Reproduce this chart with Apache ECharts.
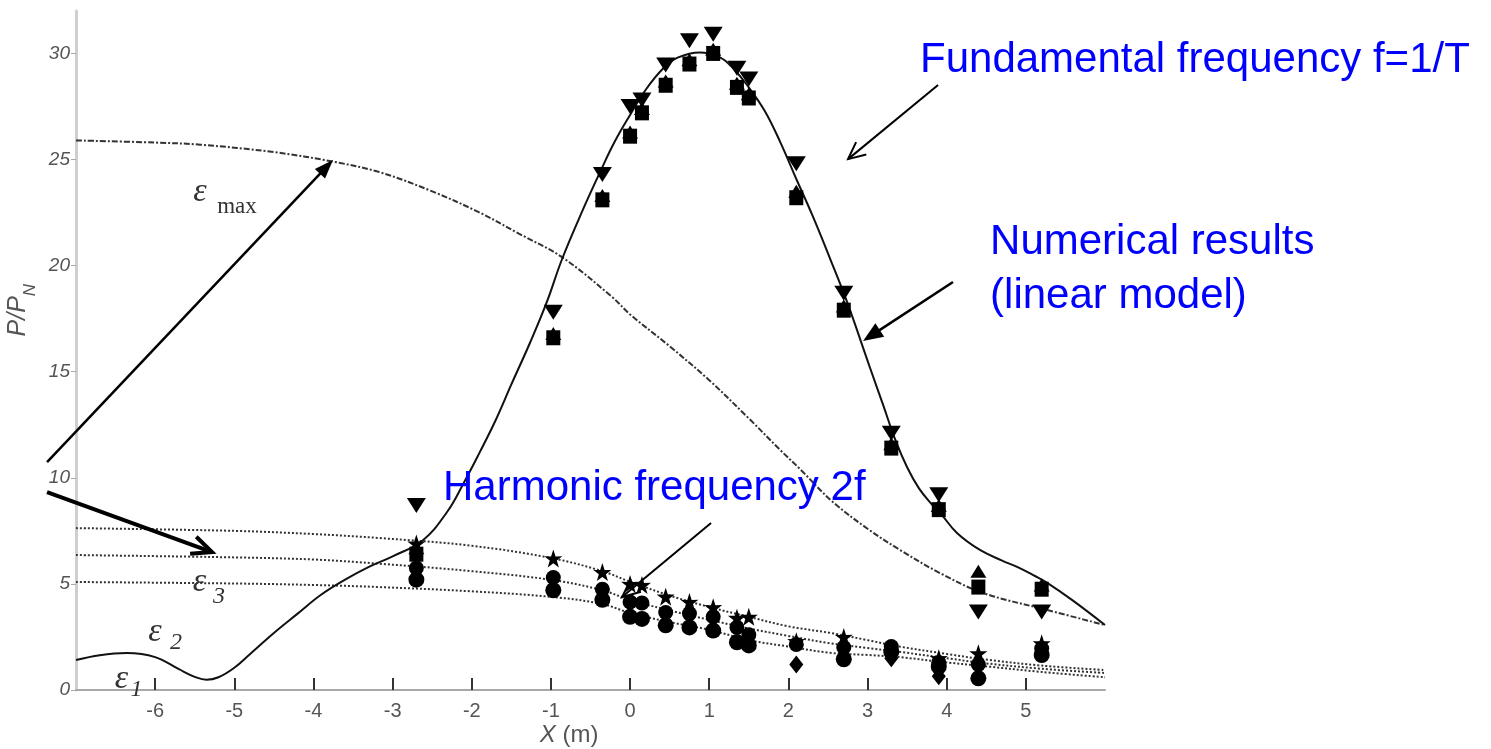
<!DOCTYPE html>
<html><head><meta charset="utf-8">
<script src="https://cdn.jsdelivr.net/npm/echarts@6/dist/echarts.min.js"></script>
<style>html,body{margin:0;padding:0;background:#fff;} #c{width:1491px;height:749px;}</style>
</head><body><div id="c"></div>
<script>
// ---- tick labels ----
const xTicks = [-6, -5, -4, -3, -2, -1, 0, 1, 2, 3, 4, 5];
const yTicks = [0, 5, 10, 15, 20, 25, 30];

// ---- numerical result, fundamental (solid) ----
const solidX = [-7, -6.7, -6.36, -6.0, -5.7, -5.5, -5.35, -5.2, -5.0, -4.8, -4.5, -4.2, -3.9, -3.6, -3.3, -3.0, -2.62, -2.31, -2.11, -1.9, -1.7, -1.5, -1.26, -1.05, -0.86, -0.6, -0.38, -0.2, 0, 0.2, 0.42, 0.6, 0.88, 1.14, 1.3, 1.48, 1.7, 1.9, 2.11, 2.3, 2.53, 2.74, 3.03, 3.2, 3.35, 3.5, 3.65, 3.8, 3.92, 4.13, 4.42, 4.7, 4.89, 5.1, 5.27, 5.6, 6.0];
const solidY = [1.41, 1.64, 1.74, 1.55, 0.98, 0.62, 0.48, 0.6, 1.05, 1.7, 2.69, 3.6, 4.5, 5.2, 5.8, 6.3, 7.05, 8.4, 9.7, 11.2, 12.7, 14.4, 16.4, 18.3, 20.3, 22.6, 24.4, 25.8, 27.1, 28.3, 29.3, 29.8, 30.05, 29.8, 29.3, 28.5, 27.3, 25.8, 24.0, 22.4, 20.3, 18.3, 15.2, 13.4, 11.8, 10.5, 9.5, 8.8, 8.34, 7.4, 6.6, 6.1, 5.8, 5.4, 5.05, 4.2, 3.06];

// ---- epsilon max (dash-dot) ----
const emaxX = [-7, -6, -5.43, -4.5, -3.75, -3.16, -2.5, -1.9, -1.4, -0.86, -0.22, 0, 0.5, 1.0, 1.5, 1.9, 2.15, 2.55, 3.0, 3.41, 3.92, 4.46, 5.27, 6];
const emaxY = [25.9, 25.8, 25.7, 25.35, 24.9, 24.4, 23.5, 22.5, 21.5, 20.4, 18.5, 17.7, 16.2, 14.6, 12.8, 11.3, 10.4, 8.9, 7.6, 6.6, 5.5, 4.57, 3.77, 3.06];

// ---- epsilon 1..3 (dotted) ----
const epsX = [-7, -5, -4, -3.16, -2, -0.97, -0.35, 0, 0.5, 1.01, 1.5, 2.0, 2.53, 3.0, 3.4, 4.0, 4.46, 5.2, 6];
const eps3Y = [7.63, 7.5, 7.35, 7.16, 6.8, 6.2, 5.6, 5.1, 4.45, 3.9, 3.45, 3.0, 2.69, 2.35, 2.05, 1.7, 1.45, 1.15, 0.94];
const eps2Y = [6.36, 6.25, 6.15, 5.95, 5.6, 5.18, 4.7, 4.24, 3.75, 3.3, 2.9, 2.55, 2.2, 1.98, 1.8, 1.5, 1.27, 1.0, 0.8];
const eps1Y = [5.09, 5.02, 4.95, 4.85, 4.65, 4.38, 4.05, 3.63, 3.2, 2.83, 2.35, 2.05, 1.75, 1.65, 1.55, 1.3, 1.13, 0.85, 0.6];

// ---- experimental points ----
const expX = [-2.7, -0.97, -0.35, 0, 0.15, 0.45, 0.75, 1.05, 1.35, 1.5, 2.1, 2.7, 3.3, 3.9, 4.4, 5.2];
const fundDown = [8.7, 17.8, 24.3, 27.5, 27.8, 29.45, 30.6, 30.9, 29.3, 28.8, 24.8, 18.7, 12.1, 9.2, 3.68, 3.68];
const fundUp   = [6.7, 16.8, 23.3, 26.3, 27.4, 28.7, 29.7, 30.2, 28.6, 28.1, 23.5, 18.1, 11.6, 8.7, 5.6, 4.95];
const fundSq   = [6.4, 16.6, 23.1, 26.1, 27.2, 28.5, 29.5, 30.0, 28.4, 27.9, 23.2, 17.9, 11.4, 8.5, 4.85, 4.75];
const harmStar = [6.9, 6.2, 5.56, 5.0, 4.95, 4.4, 4.15, 3.9, 3.4, 3.45, 2.3, 2.5, null, 1.5, 1.73, 2.2];
const harmCircA = [5.75, 5.3, 4.75, 4.15, 4.1, 3.65, 3.6, 3.45, 2.95, 2.6, 2.15, 2.0, 2.05, 1.3, 1.2, 1.95];
const harmCircB = [5.2, 4.7, 4.25, 3.45, 3.35, 3.05, 2.95, 2.8, 2.25, 2.1, null, 1.45, 1.8, 1.1, 0.55, 1.65];
const harmDiam = [null, null, null, null, null, null, null, null, null, null, 1.2, null, 1.5, 0.65, null, null];

// ---- annotations (data coordinates) ----
const arrows = [
  {from: [3.891, 28.51], to: [2.754, 25.02], head: 'open', w: 2, hl: 17, hw: 8},
  {from: [4.080, 19.23], to: [2.943, 16.45], head: 'filled', w: 2.5, hl: 20, hw: 8},
  {from: [-7.366, 10.74], to: [-3.753, 24.98], head: 'filled', w: 2.5, hl: 19, hw: 7},
  {from: [-7.366, 9.33], to: [-5.282, 6.50], head: 'open', w: 4, hl: 20, hw: 9},
  {from: [1.023, 7.87], to: [-0.102, 4.38], head: 'open', w: 2, hl: 18, hw: 8}
];
const blueTexts = [
  {t: 'Fundamental frequency f=1/T', at: [3.663, 29.69]},
  {t: 'Numerical results', at: [4.548, 21.11]},
  {t: '(linear model)', at: [4.548, 18.57]},
  {t: 'Harmonic frequency 2f', at: [-2.363, 9.52]}
];
const epsLabels = [
  {t: 'ε', at: [-5.433, 23.47], sub: 'max', subAt: [-4.966, 22.78]},
  {t: 'ε', at: [-5.440, 5.09], sub: '3', subAt: [-5.193, 4.38]},
  {t: 'ε', at: [-6.002, 2.73], sub: '2', subAt: [-5.737, 2.24]},
  {t: 'ε', at: [-6.425, 0.52], sub: '1', subAt: [-6.236, 0.0]}
];

const zip = (xs, ys) => xs.map((x, i) => [x, ys[i]]).filter(p => p[1] != null);
const STAR = 'path://M50 0 L61.8 35.1 L97.6 34.5 L68.8 56.1 L79.4 90.5 L50 69.8 L20.6 90.5 L31.2 56.1 L2.4 34.5 L38.2 35.1 Z';

const chart = echarts.init(document.getElementById('c'));
const lineS = (name, xs, ys, style, sm) => ({
  name, type: 'line', data: zip(xs, ys), showSymbol: false, smooth: sm, z: 2,
  lineStyle: style, silent: true
});
const scat = (name, ys, symbol, size, extra) => Object.assign({
  name, type: 'scatter', data: zip(expX, ys), symbol, symbolSize: size, z: 5,
  itemStyle: {color: '#000', opacity: 1}
}, extra || {});

chart.setOption({
  animation: false,
  backgroundColor: '#fff',
  grid: {left: 76, right: 386, top: 11, bottom: 59},
  xAxis: {
    type: 'value', min: -7, max: 6, interval: 1,
    axisLine: {show: true, onZero: false, lineStyle: {color: '#a8a8a8', width: 2}},
    axisTick: {show: true, customValues: xTicks, inside: true, length: 12, lineStyle: {color: '#333', width: 2}},
    axisLabel: {customValues: xTicks, color: '#555', fontSize: 20, margin: 11, fontFamily: 'Liberation Sans, Arial',
      formatter: v => (xTicks.indexOf(v) >= 0 ? String(v) : '')},
    splitLine: {show: false}
  },
  yAxis: {
    type: 'value', min: 0, max: 32, interval: 5,
    axisLine: {show: true, onZero: false, lineStyle: {color: '#cfcfcf', width: 3}},
    axisTick: {show: true, customValues: yTicks, length: 5, lineStyle: {color: '#aaa', width: 1}},
    axisLabel: {customValues: yTicks, color: '#555', fontSize: 19, fontStyle: 'italic', margin: 6,
      fontFamily: 'Liberation Sans, Arial',
      formatter: v => (yTicks.indexOf(v) >= 0 ? String(v) : '')},
    splitLine: {show: false}
  },
  series: [
    lineS('eps3', epsX, eps3Y, {color: '#333', width: 2, type: [2, 2]}, 0.35),
    lineS('eps2', epsX, eps2Y, {color: '#333', width: 2, type: [2, 2]}, 0.35),
    lineS('eps1', epsX, eps1Y, {color: '#333', width: 2, type: [2, 2]}, 0.35),
    lineS('epsmax', emaxX, emaxY, {color: '#333', width: 2, type: [6, 2, 2, 2]}, 0.35),
    lineS('numerical', solidX, solidY, {color: '#111', width: 2}, 0.4),
    scat('fund-down', fundDown, 'triangle', [19, 15], {symbolRotate: 180}),
    scat('fund-up', fundUp, 'triangle', [16, 13]),
    scat('fund-sq', fundSq, 'rect', [14, 15]),
    scat('harm-circA', harmCircA, 'circle', 15),
    scat('harm-circB', harmCircB, 'circle', 16),
    scat('harm-diam', harmDiam, 'diamond', [14, 18]),
    scat('harm-star', harmStar, STAR, 18)
  ]
});

const P = p => chart.convertToPixel({gridIndex: 0}, p);
const g = [];
arrows.forEach(a => {
  const f = P(a.from), t = P(a.to);
  const dx = t[0] - f[0], dy = t[1] - f[1], L = Math.hypot(dx, dy), ux = dx / L, uy = dy / L;
  const bx = t[0] - ux * a.hl, by = t[1] - uy * a.hl;
  const l = [bx - uy * a.hw, by + ux * a.hw], r = [bx + uy * a.hw, by - ux * a.hw];
  if (a.head === 'filled') {
    g.push({type: 'line', z: 50, shape: {x1: f[0], y1: f[1], x2: bx + ux * 3, y2: by + uy * 3}, style: {stroke: '#000', lineWidth: a.w}});
    g.push({type: 'polygon', z: 50, shape: {points: [t, l, r]}, style: {fill: '#000'}});
  } else {
    g.push({type: 'line', z: 50, shape: {x1: f[0], y1: f[1], x2: t[0], y2: t[1]}, style: {stroke: '#000', lineWidth: a.w}});
    g.push({type: 'polyline', z: 50, shape: {points: [l, t, r]}, style: {stroke: '#000', lineWidth: a.w, fill: null}});
  }
});
blueTexts.forEach(b => {
  const p = P(b.at);
  g.push({type: 'text', z: 60, x: p[0], y: p[1], style: {text: b.t, fill: '#0000ff', fontSize: 42,
    fontFamily: 'Liberation Sans, Arial', align: 'left', verticalAlign: 'middle'}});
});
epsLabels.forEach(e => {
  const p = P(e.at), q = P(e.subAt);
  g.push({type: 'text', z: 60, x: p[0], y: p[1], style: {text: e.t, fill: '#333', fontSize: 34, fontStyle: 'italic',
    fontFamily: 'Liberation Serif, DejaVu Serif', align: 'center', verticalAlign: 'middle'}});
  g.push({type: 'text', z: 60, x: q[0], y: q[1], style: {text: e.sub, fill: '#333', fontSize: e.sub === 'max' ? 23 : 24,
    fontStyle: e.sub === 'max' ? 'normal' : 'italic',
    fontFamily: 'Liberation Serif, DejaVu Serif', align: 'center', verticalAlign: 'middle'}});
});
// axis names
const xn = P([-0.77, -2.12]);
g.push({type: 'text', z: 60, x: xn[0], y: xn[1], style: {text: '{i|X} (m)', fill: '#555', fontSize: 24,
  fontFamily: 'Liberation Sans, Arial', align: 'center', verticalAlign: 'middle',
  rich: {i: {fontStyle: 'italic', fontSize: 24, fill: '#555', fontFamily: 'Liberation Sans, Arial'}}}});
const yn = P([-7.68, 17.9]);
g.push({type: 'text', z: 60, x: yn[0], y: yn[1], rotation: Math.PI / 2,
  style: {text: '{p|P/P}{s|N}', fill: '#555', align: 'center', verticalAlign: 'middle',
    rich: {p: {fontSize: 25, fontStyle: 'italic', fill: '#555', fontFamily: 'Liberation Sans, Arial', lineHeight: 34, verticalAlign: 'top'},
           s: {fontSize: 17, fontStyle: 'italic', fill: '#555', fontFamily: 'Liberation Sans, Arial', lineHeight: 34, verticalAlign: 'bottom'}}}});
chart.setOption({graphic: g});
</script></body></html>
